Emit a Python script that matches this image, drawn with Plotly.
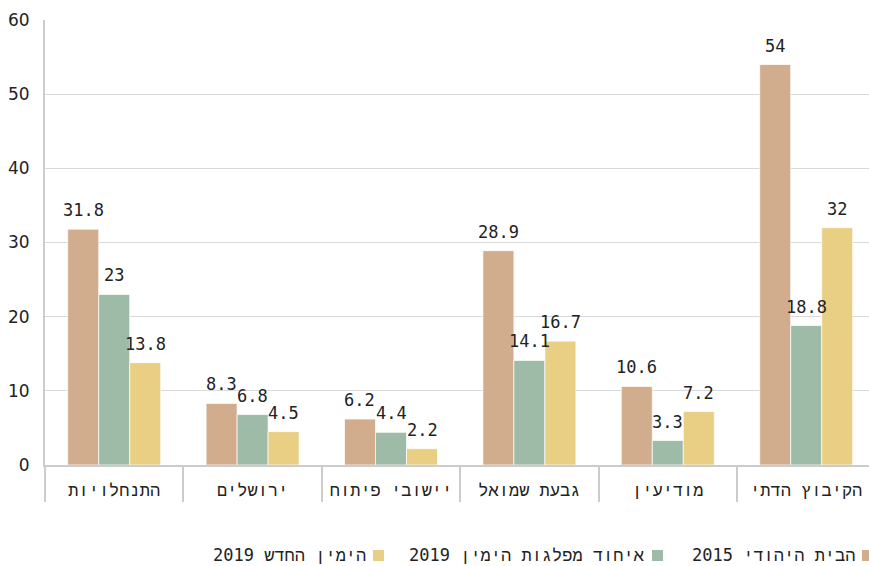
import plotly.graph_objects as go

categories = ["התנחלויות", "ירושלים", "יישובי פיתוח", "גבעת שמואל", "מודיעין", "הקיבוץ הדתי"]
series_names = ["הבית היהודי 2015", "איחוד מפלגות הימין 2019", "הימין החדש 2019"]
bayit_2015 = [31.8, 8.3, 6.2, 28.9, 10.6, 54]
ihud_2019 = [23, 6.8, 4.4, 14.1, 3.3, 18.8]
yamin_2019 = [13.8, 4.5, 2.2, 16.7, 7.2, 32]
y_ticks = [0, 10, 20, 30, 40, 50, 60]

colors = ["#D1AD8E", "#9EBBA8", "#E8CF84"]
series_values = [bayit_2015, ihud_2019, yamin_2019]

W, H = 869, 566
OFF = 0  # page body margin removed below
L, R, T, B = 45, 0, 20, 101
pw = W - L - R
ph = H - T - B
CAT_PX = 138.4  # width of one category slot
BARGAP = 0.328
bar_px = CAT_PX * (1 - BARGAP) / len(series_names)
x_max = -0.5 + pw / CAT_PX

def px_x(p):
    return (p - OFF - L) / pw

def px_y(p):
    return (H - B - (p - OFF)) / ph

MONO = "DejaVu Sans Mono, Liberation Mono, monospace"

fig = go.Figure()
for i, (name, vals, col) in enumerate(zip(series_names, series_values, colors)):
    fig.add_trace(go.Bar(
        x=categories, y=vals, name=name,
        marker=dict(color=col, line=dict(color="rgba(255,255,255,0.7)", width=1)),
        showlegend=False,
    ))
    for c, v in zip(categories, vals):
        fig.add_annotation(
            x=c, y=v, xref="x", yref="y", text=f"{v:g}", showarrow=False,
            xanchor="center", yanchor="bottom",
            xshift=(i - 1) * bar_px, yshift=7,
            font=dict(family=MONO, size=17, color="#222"),
        )

fig.update_layout(
    width=W, height=H,
    margin=dict(l=L, r=R, t=T, b=B, pad=0),
    plot_bgcolor="white", paper_bgcolor="white",
    barmode="group", bargap=BARGAP, bargroupgap=0,
    font=dict(family="DejaVu Sans", color="#222"),
)

fig.update_xaxes(
    type="category",
    range=[-0.5, x_max],
    showgrid=False,
    showline=True, linecolor="#cccccc", linewidth=1.5,
    ticks="outside", tickson="boundaries", ticklen=35,
    tickcolor="#cccccc", tickwidth=1.5,
    ticklabelstandoff=9,
    tickfont=dict(family=MONO, size=17, color="#222"),
)

fig.update_yaxes(
    range=[0, 60],
    tickvals=y_ticks,
    showgrid=True, gridcolor="#d9d9d9", gridwidth=1,
    showline=True, linecolor="#cccccc", linewidth=2,
    ticks="", ticklabelstandoff=10,
    tickfont=dict(family="DejaVu Sans", size=17, color="#222"),
    zeroline=False,
)

# custom right-to-left legend (swatch to the right of the text)
legend_swatch_left = [862, 652, 373]
for name, col, sx in zip(series_names, colors, legend_swatch_left):
    fig.add_shape(type="rect", xref="paper", yref="paper", layer="above",
                  x0=px_x(sx), x1=px_x(sx + 11), y0=px_y(561), y1=px_y(550),
                  fillcolor=col, line=dict(width=0))
    fig.add_annotation(xref="paper", yref="paper", x=px_x(sx - 5), y=px_y(555),
                       xanchor="right", yanchor="middle", showarrow=False,
                       text=name, font=dict(family=MONO, size=17, color="#222"))

page_js = ("document.body.style.margin='0';"
           "document.documentElement.style.overflow='hidden';"
           "document.body.style.overflow='hidden';")

fig.write_html("out.html", post_script=page_js, config={"displayModeBar": False})
